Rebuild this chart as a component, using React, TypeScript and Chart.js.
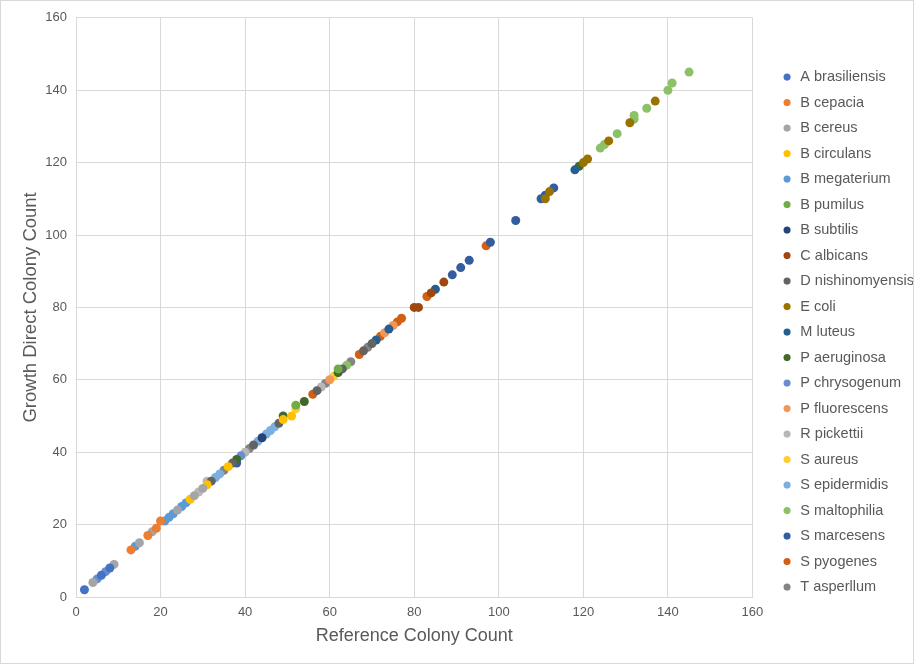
import { useEffect, useRef } from "react";
import { Chart, registerables } from "chart.js";

Chart.register(...registerables);

const seriesNames = [
  "A brasiliensis", "B cepacia", "B cereus", "B circulans", "B megaterium", "B pumilus",
  "B subtilis", "C albicans", "D nishinomyensis", "E coli", "M luteus", "P aeruginosa",
  "P chrysogenum", "P fluorescens", "R pickettii", "S aureus", "S epidermidis",
  "S maltophilia", "S marcesens", "S pyogenes", "T asperllum",
];

const seriesColors = [
  "#4472C4", "#ED7D31", "#A5A5A5", "#FFC000", "#5B9BD5", "#70AD47",
  "#264478", "#9E480E", "#636363", "#997300", "#255E91", "#43682B",
  "#698ED0", "#F1975A", "#B7B7B7", "#FFCD33", "#7CAFDD", "#8CC168",
  "#335CA1", "#D35F12", "#848484",
];

// [reference count, growth direct count]
const aBrasiliensis = [[2, 2], [6, 6], [8, 8]];
const bCepacia = [[13, 13], [17, 17], [19, 19], [20, 21]];
const bCereus = [[4, 4], [9, 9], [15, 15], [18, 18], [24, 24], [28, 28], [30, 30]];
const bCirculans = [[27, 27], [31, 31], [36, 36], [49, 49], [51, 50]];
const bMegaterium = [[14, 14], [21, 21], [22, 22], [23, 23], [25, 25], [26, 26]];
const bPumilus = [[52, 53], [62, 63]];
const bSubtilis = [[44, 44]];
const cAlbicans = [[80, 80], [81, 80], [84, 84], [87, 87]];
const dNishinomyensis = [[32, 32], [37, 37], [42, 42], [48, 48], [57, 57], [63, 63], [68, 68], [70, 70]];
const eColi = [[111, 110], [112, 112], [120, 120], [121, 121], [126, 126], [131, 131], [137, 137]];
const mLuteus = [[71, 71], [74, 74], [85, 85], [118, 118]];
const pAeruginosa = [[38, 38], [49, 50], [54, 54], [62, 62], [119, 119]];
const pChrysogenum = [[5, 5], [7, 7], [39, 39]];
const pFluorescens = [[60, 60], [73, 73], [75, 75]];
const rPickettii = [[29, 29], [31, 32], [40, 40], [58, 58]];
const sAureus = [[52, 52], [61, 61]];
const sEpidermidis = [[33, 33], [34, 34], [43, 43], [45, 45], [46, 46], [47, 47]];
const sMaltophilia = [[64, 64], [124, 124], [125, 125], [128, 128], [132, 132], [132, 133], [135, 135], [140, 140], [141, 142], [145, 145]];
const sMarcesens = [[38, 37], [89, 89], [91, 91], [93, 93], [98, 98], [104, 104], [110, 110], [111, 111], [113, 113]];
const sPyogenes = [[56, 56], [67, 67], [72, 72], [76, 76], [77, 77], [83, 83], [97, 97]];
const tAsperllum = [[35, 35], [41, 41], [59, 59], [65, 65], [69, 69]];

const seriesData = [
  aBrasiliensis, bCepacia, bCereus, bCirculans, bMegaterium, bPumilus, bSubtilis,
  cAlbicans, dNishinomyensis, eColi, mLuteus, pAeruginosa, pChrysogenum, pFluorescens,
  rPickettii, sAureus, sEpidermidis, sMaltophilia, sMarcesens, sPyogenes, tAsperllum,
];

const axisMin = 0;
const axisMax = 160;
const axisStep = 20;
const xTitle = "Reference Colony Count";
const yTitle = "Growth Direct Colony Count";

const FONT = "'Liberation Sans', Arial, Helvetica, sans-serif";
const TEXT = "#595959";
const GRID = "#d9d9d9";

export default function App() {
  const ref = useRef<HTMLCanvasElement | null>(null);

  useEffect(() => {
    if (!ref.current) return;
    Chart.defaults.font.family = FONT;
    const chart = new Chart(ref.current, {
      type: "scatter",
      data: {
        datasets: seriesNames.map((name, i) => ({
          label: name,
          data: seriesData[i].map(([x, y]) => ({ x, y })),
          backgroundColor: seriesColors[i],
          borderColor: seriesColors[i],
          pointRadius: 4.5,
          pointBorderWidth: 0,
          pointHoverRadius: 4.5,
          pointStyle: "circle",
        })),
      },
      options: {
        animation: false,
        responsive: false,
        devicePixelRatio: 1,
        layout: { padding: { top: 12, left: 14.4, bottom: 16.2, right: 0 } },
        plugins: {
          tooltip: { enabled: false },
          legend: {
            position: "right",
            title: { display: true, text: "", font: { size: 1 }, padding: { top: 3.2, bottom: 0 } },
            labels: {
              usePointStyle: true,
              pointStyle: "circle",
              boxWidth: 12,
              boxHeight: 5,
              padding: 11,
              color: TEXT,
              font: { size: 14.5, family: FONT },
            },
          },
        },
        scales: {
          x: {
            type: "linear",
            min: axisMin,
            max: axisMax,
            ticks: { stepSize: axisStep, color: TEXT, padding: 8, font: { size: 13, family: FONT } },
            grid: { color: GRID, lineWidth: 1, drawTicks: false, tickLength: 0 },
            border: { color: GRID },
            title: {
              display: true,
              text: xTitle,
              color: TEXT,
              font: { size: 18, family: FONT },
              padding: { top: 4, bottom: 0 },
            },
            afterFit: (s: any) => {
              s.height = 49.8;
            },
          },
          y: {
            type: "linear",
            min: axisMin,
            max: axisMax,
            ticks: { stepSize: axisStep, color: TEXT, padding: 9, font: { size: 13, family: FONT } },
            grid: { color: GRID, lineWidth: 1, drawTicks: false, tickLength: 0 },
            border: { color: GRID },
            title: {
              display: true,
              text: yTitle,
              color: TEXT,
              font: { size: 18.5, family: FONT },
              padding: { top: 4, bottom: 4 },
            },
            afterFit: (s: any) => {
              s.width = 60.6;
            },
          },
          spacer: {
            type: "linear",
            position: "right",
            display: true,
            grid: { display: false, drawTicks: false, tickLength: 0 },
            border: { display: false },
            ticks: { display: false },
            afterFit: (s: any) => {
              s.width = 17.6;
            },
          },
        },
      } as any,
    });
    return () => chart.destroy();
  }, []);

  return (
    <div
      style={{
        position: "fixed",
        left: 0,
        top: 0,
        width: 914,
        height: 664,
        boxSizing: "border-box",
        border: "1px solid #d9d9d9",
        background: "#ffffff",
        overflow: "hidden",
      }}
    >
      <canvas ref={ref} width={920} height={662} style={{ display: "block", width: 920, height: 662 }} />
    </div>
  );
}
